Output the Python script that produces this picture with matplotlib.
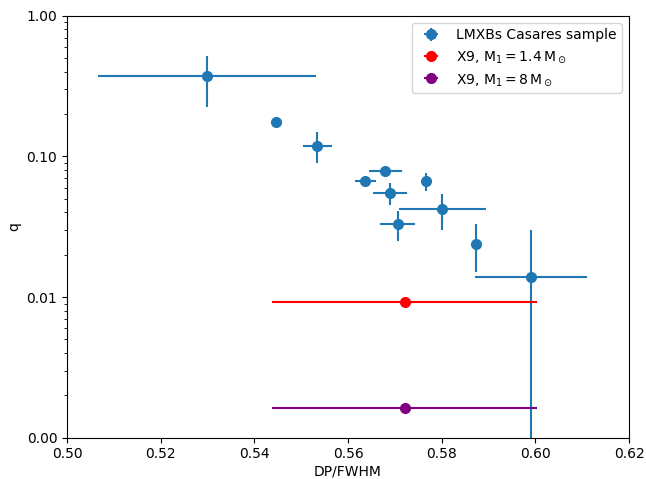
import matplotlib
matplotlib.use("Agg")
import matplotlib.pyplot as plt
import numpy as np
from matplotlib.ticker import FormatStrFormatter

#Casares LMXB sample (DP/FWHM vs q)
dp_fwhm = [0.5299, 0.5447, 0.5534, 0.5637, 0.5680, 0.5690, 0.5767, 0.5801, 0.5706, 0.5873, 0.5991]
dp_err = [0.0233, 0.0, 0.0031, 0.0023, 0.0036, 0.0037, 0.0006, 0.0093, 0.0038, 0.0, 0.0119]
q = [0.373, 0.1755, 0.119, 0.0669, 0.0787, 0.0549, 0.0669, 0.0421, 0.0329, 0.0240, 0.0140]
q_err = [0.147, 0.0, 0.029, 0.0, 0.0, 0.0097, 0.0098, 0.012, 0.008, 0.009, 0.016]

#X9 values
x9_dp = 0.5721
x9_dp_err = 0.0283
x9_q_ns = 0.00925
x9_q_bh = 0.00163

fig, ax = plt.subplots(figsize=(6.46, 4.79), dpi=100)
fig.subplots_adjust(left=0.1037, right=0.9737, top=0.967, bottom=0.0862)

ax.errorbar(dp_fwhm, q, xerr=dp_err, yerr=q_err, fmt='o', ms=7, lw=1.5,
            color='tab:blue', label='LMXBs Casares sample')
ax.errorbar([x9_dp], [x9_q_ns], xerr=[x9_dp_err], fmt='o', ms=7, lw=1.5,
            color='red', label=r'X9, $\rm M_1 = 1.4\,M_\odot$')
ax.errorbar([x9_dp], [x9_q_bh], xerr=[x9_dp_err], fmt='o', ms=7, lw=1.5,
            color='purple', label=r'X9, $\rm M_1 = 8\,M_\odot$')

ax.set_yscale('log')
ax.set_xlim(0.50, 0.62)
ax.set_ylim(0.001, 1.0)
ax.yaxis.set_major_formatter(FormatStrFormatter('%.2f'))
ax.set_xlabel('DP/FWHM', labelpad=2)
ax.set_ylabel('q')
ax.legend(loc='upper right')

plt.savefig('out.png', dpi=100)
